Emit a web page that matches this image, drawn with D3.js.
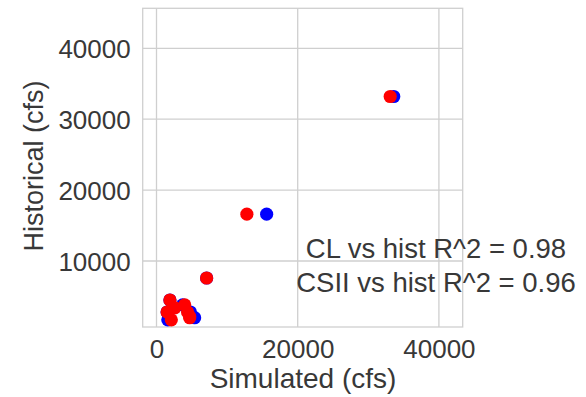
<!DOCTYPE html>
<html>
<head>
<meta charset="utf-8">
<script src="https://cdn.jsdelivr.net/npm/d3@7/dist/d3.min.js"></script>
<style>
  html, body { margin: 0; padding: 0; background: #fff; }
  svg { display: block; font-family: "Liberation Sans", Arial, sans-serif; }
</style>
</head>
<body>
<svg id="chart" width="586" height="397"></svg>
<script>
// Historical flow for each event (cfs)
const historical = [33200, 16600, 7600, 4500, 3800, 3400, 2800, 2800, 2200, 1700, 2000];
// Simulated flows for the same events (cfs)
const simulatedCL   = [33600, 15600, 7100, 1900, 3700, 2300, 1500, 4800, 4900, 1600, 5400];
const simulatedCSII = [33100, 12800, 7100, 1900, 4000, 2600, 1500, 4400, 4700, 2100, 4700];

const xTicks = [0, 20000, 40000];
const yTicks = [10000, 20000, 30000, 40000];
const annotations = ["CL vs hist R^2 = 0.98", "CSII vs hist R^2 = 0.96"];

const svg = d3.select("#chart");
const plot = { left: 142.7, right: 462.7, top: 8.3, bottom: 327 };

const x = d3.scaleLinear().domain([-1955, 43370]).range([plot.left, plot.right]);
const y = d3.scaleLinear().domain([690, 45640]).range([plot.bottom, plot.top]);

const gridColor = "#cfcfcf";
const textColor = "#383838";

// Grid lines
const g = svg.append("g");
g.selectAll(".vgrid").data(xTicks).join("line")
  .attr("x1", d => x(d)).attr("x2", d => x(d))
  .attr("y1", plot.top).attr("y2", plot.bottom)
  .attr("stroke", gridColor).attr("stroke-width", 1.3);
g.selectAll(".hgrid").data(yTicks).join("line")
  .attr("x1", plot.left).attr("x2", plot.right)
  .attr("y1", d => y(d)).attr("y2", d => y(d))
  .attr("stroke", gridColor).attr("stroke-width", 1.3);

// Frame
svg.append("rect")
  .attr("x", plot.left).attr("y", plot.top)
  .attr("width", plot.right - plot.left).attr("height", plot.bottom - plot.top)
  .attr("fill", "none").attr("stroke", gridColor).attr("stroke-width", 1.3);

// Axes (tick labels only)
const xAxis = d3.axisBottom(x).tickValues(xTicks).tickSize(0).tickPadding(0).tickFormat(d3.format("d"));
const yAxis = d3.axisLeft(y).tickValues(yTicks).tickSize(0).tickPadding(0).tickFormat(d3.format("d"));

const xg = svg.append("g").attr("transform", `translate(0,${plot.bottom})`).call(xAxis);
xg.select(".domain").remove();
xg.selectAll("text").attr("font-size", 26).attr("fill", textColor)
  .attr("dy", null).attr("y", 31).attr("font-family", "Liberation Sans, Arial, sans-serif");

const yg = svg.append("g").attr("transform", `translate(${plot.left},0)`).call(yAxis);
yg.select(".domain").remove();
yg.selectAll("text").attr("font-size", 26).attr("fill", textColor)
  .attr("x", -12).attr("dy", "0.36em").attr("font-family", "Liberation Sans, Arial, sans-serif");

// Points: CL in blue, CSII in red drawn on top
const r = 6.6;
svg.append("g").selectAll("circle").data(historical).join("circle")
  .attr("cx", (d, i) => x(simulatedCL[i])).attr("cy", d => y(d))
  .attr("r", r).attr("fill", "#0000ff");
svg.append("g").selectAll("circle").data(historical).join("circle")
  .attr("cx", (d, i) => x(simulatedCSII[i])).attr("cy", d => y(d))
  .attr("r", r).attr("fill", "#ff0000");

// Axis titles
svg.append("text").attr("x", 303).attr("y", 388)
  .attr("text-anchor", "middle").attr("font-size", 28).attr("fill", textColor)
  .text("Simulated (cfs)");
svg.append("text").attr("transform", "translate(43,166) rotate(-90)")
  .attr("text-anchor", "middle").attr("font-size", 27).attr("fill", textColor)
  .text("Historical (cfs)");

// R^2 annotation
svg.append("g").selectAll("text").data(annotations).join("text")
  .attr("x", 436).attr("y", (d, i) => 258 + i * 33.5)
  .attr("text-anchor", "middle").attr("font-size", 27.5).attr("fill", textColor)
  .text(d => d);
</script>
</body>
</html>
